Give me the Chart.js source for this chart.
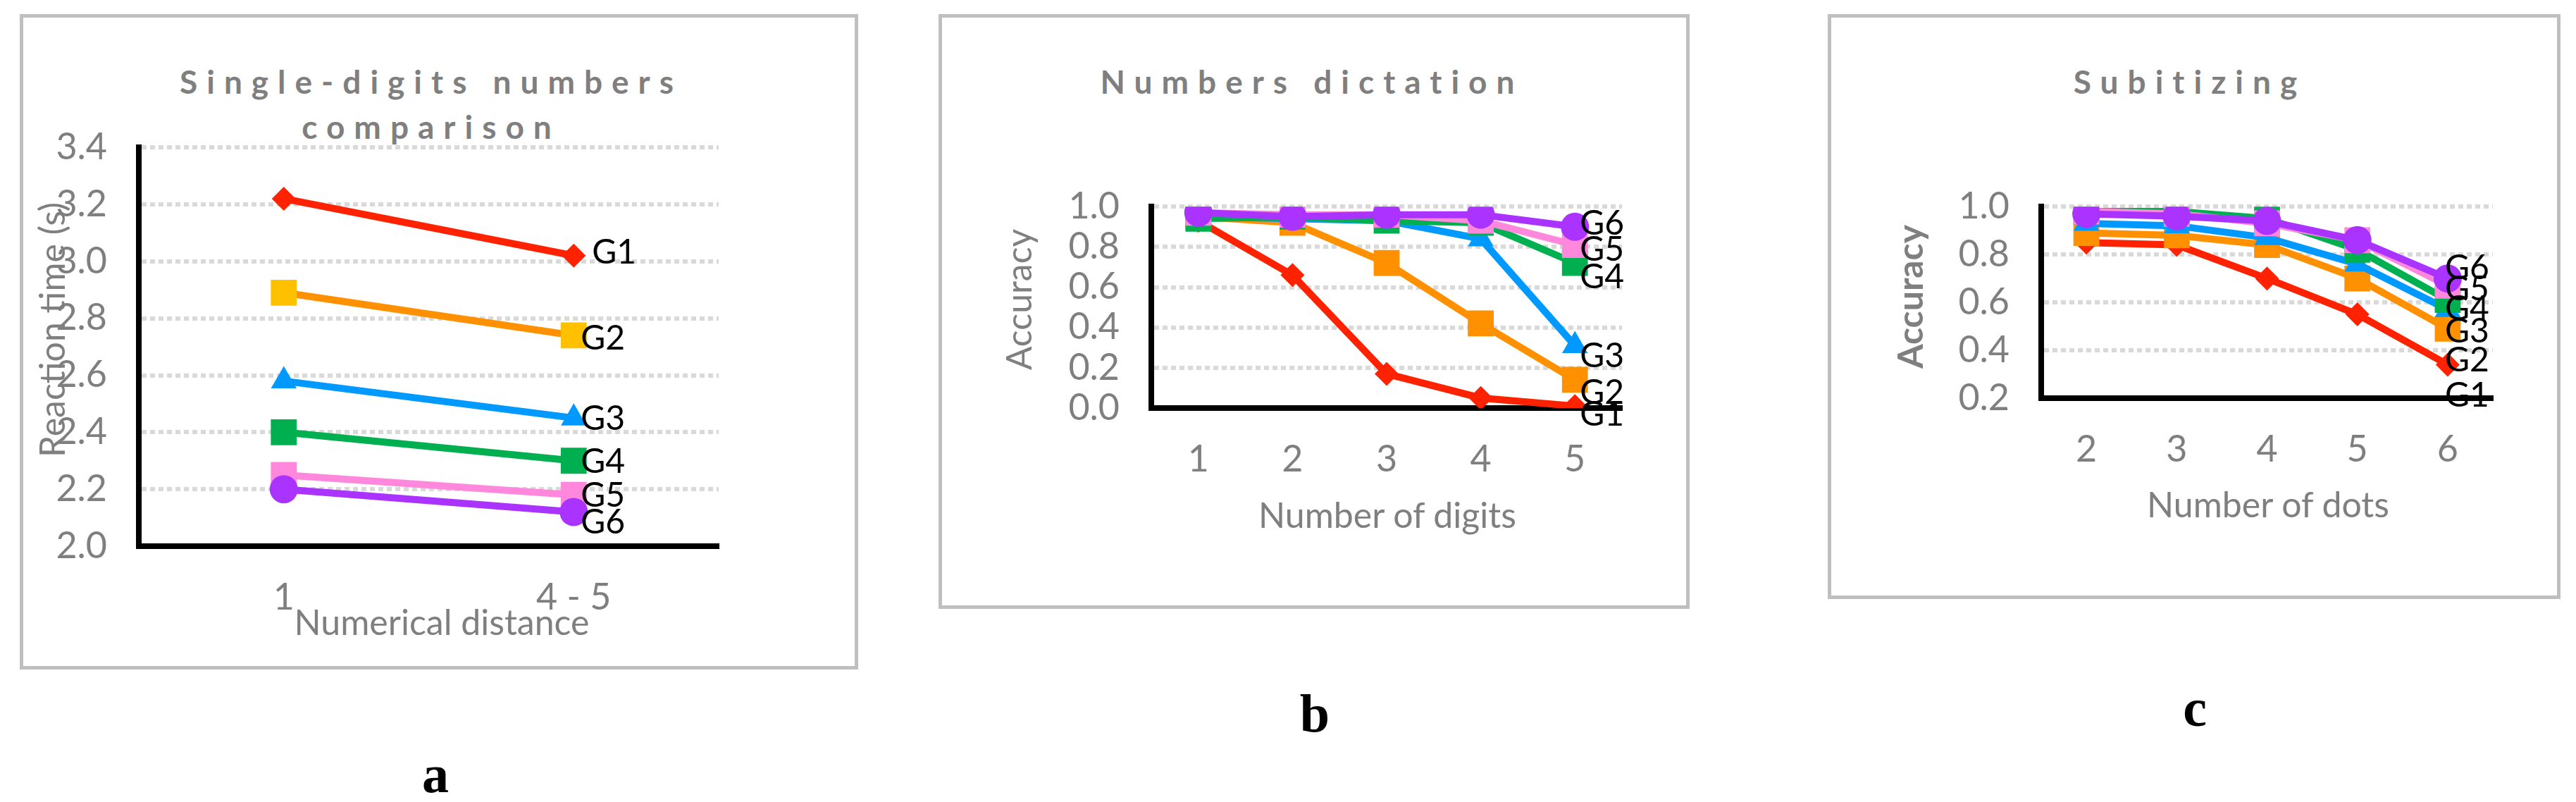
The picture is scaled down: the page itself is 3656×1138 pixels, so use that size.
<!DOCTYPE html>
<html>
<head>
<meta charset="utf-8">
<script src="https://cdn.jsdelivr.net/npm/chart.js@4"></script>
<style>
  body { margin: 0; width: 3656px; height: 1138px; background: #fff; position: relative; overflow: hidden; font-family: Lato, "Open Sans", sans-serif; }
  .box { position: absolute; border: 5px solid #bfbfbf; box-sizing: border-box; }
  .ttl { position: absolute; color: #7f7f7f; font-weight: bold; font-size: 46px; letter-spacing: 13px; text-align: center; line-height: 64px; transform: translateX(-50%); white-space: nowrap; }
  .xt { position: absolute; color: #7f7f7f; font-size: 50px; transform: translate(-50%, -50%); white-space: nowrap; }
  .yt { position: absolute; color: #7f7f7f; font-size: 50px; transform: translate(-50%, -50%) rotate(-90deg); white-space: nowrap; }
  .lbl { position: absolute; font-family: "Liberation Serif", serif; font-weight: bold; font-size: 76px; transform: translate(-50%, -50%); }
  canvas { position: absolute; }
</style>
</head>
<body>
<div class="box" style="left:28px;top:20px;width:1190px;height:930px"></div>
<div class="box" style="left:1332px;top:20px;width:1066px;height:844px"></div>
<div class="box" style="left:2594px;top:20px;width:1040px;height:830px"></div>

<div class="ttl" style="left:612px;top:84px">Single-digits numbers<br>comparison</div>
<div class="ttl" style="left:1862px;top:84px">Numbers dictation</div>
<div class="ttl" style="left:3108px;top:84px">Subitizing</div>

<div class="xt" style="left:627px;top:882px">Numerical distance</div>
<div class="xt" style="left:1969px;top:730px">Number of digits</div>
<div class="xt" style="left:3219px;top:715px">Number of dots</div>

<div class="yt" style="left:73px;top:468px">Reaction time (s)</div>
<div class="yt" style="left:1445px;top:425px">Accuracy</div>
<div class="yt" style="left:2710px;top:421px;font-weight:bold">Accuracy</div>

<div class="lbl" style="left:618px;top:1098px">a</div>
<div class="lbl" style="left:1866px;top:1012px">b</div>
<div class="lbl" style="left:3115px;top:1004px">c</div>

<canvas id="chartA"></canvas>
<canvas id="chartB"></canvas>
<canvas id="chartC"></canvas>

<script>
// ---- data ----
const groups = ['G1', 'G2', 'G3', 'G4', 'G5', 'G6'];

const distanceLabels = ['1', '4 - 5'];
const reactionG1 = [3.22, 3.02];
const reactionG2 = [2.89, 2.74];
const reactionG3 = [2.58, 2.45];
const reactionG4 = [2.40, 2.30];
const reactionG5 = [2.25, 2.18];
const reactionG6 = [2.20, 2.12];

const digitLabels = ['1', '2', '3', '4', '5'];
const dictationG1 = [0.93, 0.66, 0.17, 0.05, 0.01];
const dictationG2 = [0.95, 0.92, 0.72, 0.42, 0.14];
const dictationG3 = [0.95, 0.94, 0.93, 0.84, 0.31];
const dictationG4 = [0.94, 0.95, 0.93, 0.92, 0.72];
const dictationG5 = [0.97, 0.96, 0.96, 0.93, 0.81];
const dictationG6 = [0.97, 0.95, 0.96, 0.96, 0.90];

const dotLabels = ['2', '3', '4', '5', '6'];
const subitG1 = [0.85, 0.84, 0.70, 0.55, 0.34];
const subitG2 = [0.89, 0.88, 0.84, 0.70, 0.49];
const subitG3 = [0.93, 0.92, 0.87, 0.76, 0.57];
const subitG4 = [0.98, 0.98, 0.95, 0.82, 0.61];
const subitG5 = [0.98, 0.97, 0.93, 0.86, 0.67];
const subitG6 = [0.97, 0.96, 0.94, 0.86, 0.70];

// ---- styles ----
const lineColors = ['#ff2200', '#ff9100', '#0099ff', '#00b050', '#ff88dd', '#aa33ff'];
const pointStyles = ['rectRot', 'rect', 'triangle', 'rect', 'rect', 'circle'];
const pointRadii = [17, 26, 21, 26, 26, 20];

Chart.defaults.font.family = 'Lato, "Open Sans", sans-serif';
Chart.defaults.devicePixelRatio = 1;

// end-of-line group labels
const endLabels = {
    id: 'endLabels',
    afterDatasetsDraw(chart, args, opts) {
        const ctx = chart.ctx;
        ctx.save();
        ctx.font = '48px Lato, "Open Sans", sans-serif';
        ctx.fillStyle = '#000';
        ctx.textAlign = 'left';
        ctx.textBaseline = 'middle';
        chart.data.datasets.forEach((ds, i) => {
            const pts = chart.getDatasetMeta(i).data;
            const p = pts[pts.length - 1];
            ctx.fillText(ds.label, p.x + opts.dx[i], p.y + opts.dy[i]);
        });
        ctx.restore();
    }
};

function makeChart(id, plot, labels, series, yMin, yMax, dx, dy, pointColors) {
    const yw = 160, pt = 30, pr = 150, xh = 110;
    const canvas = document.getElementById(id);
    canvas.width = plot.w + yw + pr;
    canvas.height = plot.h + pt + xh;
    canvas.style.left = (plot.l - yw) + 'px';
    canvas.style.top = (plot.t - pt) + 'px';

    const datasets = series.map((data, i) => ({
        label: groups[i],
        data,
        borderColor: lineColors[i],
        backgroundColor: (pointColors || lineColors)[i],
        pointBackgroundColor: (pointColors || lineColors)[i],
        pointBorderColor: (pointColors || lineColors)[i],
        borderWidth: 10,
        pointStyle: pointStyles[i],
        pointRadius: pointRadii[i],
        pointBorderWidth: 0,
        order: 5 - i
    }));

    return new Chart(canvas, {
        type: 'line',
        data: { labels, datasets },
        plugins: [endLabels],
        options: {
            responsive: false,
            animation: false,
            layout: { padding: { top: pt, right: pr, left: 0, bottom: 0 } },
            plugins: {
                legend: { display: false },
                tooltip: { enabled: false },
                endLabels: { dx, dy }
            },
            scales: {
                x: {
                    offset: true,
                    grid: { display: false },
                    border: { color: '#000', width: 8 },
                    ticks: { color: '#7f7f7f', font: { size: 52 }, padding: 34 },
                    afterFit(s) { s.height = xh; }
                },
                y: {
                    min: yMin,
                    max: yMax,
                    grid: { color: '#d9d9d9', lineWidth: 6, drawTicks: false },
                    border: { color: '#000', width: 8, dash: [7, 5] },
                    ticks: {
                        stepSize: 0.2,
                        autoSkip: false,
                        color: '#7f7f7f',
                        font: { size: 52 },
                        padding: 45,
                        callback: v => Number(v).toFixed(1)
                    },
                    afterFit(s) { s.width = yw; }
                }
            }
        }
    });
}

makeChart('chartA', { l: 197, t: 163, w: 823, h: 612 }, distanceLabels,
    [reactionG1, reactionG2, reactionG3, reactionG4, reactionG5, reactionG6],
    2.0, 3.4, [26, 10, 10, 10, 10, 10], [-4, 5, 1, 2, 1, 15],
    ['#ff2200', '#ffc000', '#0099ff', '#00b050', '#ff88dd', '#aa33ff']);

makeChart('chartB', { l: 1634, t: 247, w: 668, h: 332 }, digitLabels,
    [dictationG1, dictationG2, dictationG3, dictationG4, dictationG5, dictationG6],
    0.0, 1.0, [7, 7, 7, 7, 7, 7], [12, 19, 15, 20, 7, -4]);

makeChart('chartC', { l: 2897, t: 247, w: 641, h: 318 }, dotLabels,
    [subitG1, subitG2, subitG3, subitG4, subitG5, subitG6],
    0.2, 1.0, [-4, -4, -4, -4, -4, -4], [44, 45, 31, 13, 5, -15]);
</script>
</body>
</html>
